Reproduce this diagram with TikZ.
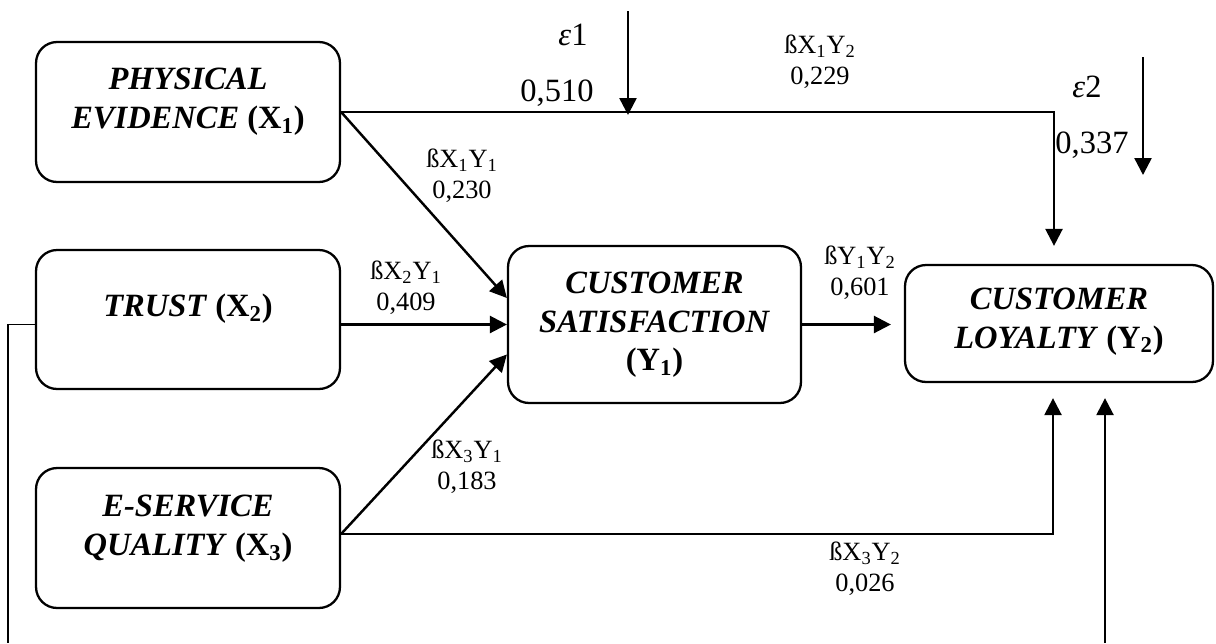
\documentclass[tikz,border=0pt]{standalone}
\usepackage{fontspec}
\setmainfont{Liberation Serif}
\usetikzlibrary{arrows.meta}

\tikzset{
	box/.style={draw, rounded corners=0.42cm, line width=1.3pt, inner sep=0pt},
	boxtext/.style={font=\fontsize{18.5}{22}\selectfont\bfseries, align=center},
	coef/.style={font=\fontsize{15}{17.5}\selectfont, align=center},
	err/.style={font=\fontsize{18.5}{20}\selectfont},
	arr/.style={line width=1.4pt, -{Triangle[length=0.34cm,width=0.34cm]}},
}

\begin{document}
\begin{tikzpicture}[x=0.02cm, y=-0.02cm]
	\useasboundingbox (0,0) rectangle (1216,643);

	%independent variables (X)
	\node[box, minimum width=6.08cm, minimum height=2.8cm] (pe) at (188,112) {};
	\node[boxtext] (pe text) at (188,102) {\textit{PHYSICAL}\\\textit{EVIDENCE} (X\textsubscript{1})};
	\node[box, minimum width=6.08cm, minimum height=2.78cm] (tr) at (188,319.5) {};
	\node[boxtext] (tr text) at (188,309) {\textit{TRUST} (X\textsubscript{2})};
	\node[box, minimum width=6.08cm, minimum height=2.8cm] (esq) at (188,538) {};
	\node[boxtext] (esq text) at (188,529) {\textit{E-SERVICE}\\\textit{QUALITY} (X\textsubscript{3})};

	%intervening and dependent variables (Y)
	\node[box, minimum width=5.86cm, minimum height=3.14cm] (y1) at (654.5,324.5) {};
	\node[boxtext] (y1 text) at (654.5,325) {\textit{CUSTOMER}\\\textit{SATISFACTION}\\(Y\textsubscript{1})};
	\node[box, minimum width=6.16cm, minimum height=2.34cm] (y2) at (1059,323.5) {};
	\node[boxtext] (y2 text) at (1059,321.5) {\textit{CUSTOMER}\\\textit{LOYALTY} (Y\textsubscript{2})};

	%paths
	\draw[arr] (pe.east) -- ([yshift=0.53cm]y1.west);
	\draw[arr] (tr.east |- y1.west) -- (y1.west);
	\draw[arr] ([yshift=0.08cm]esq.east) -- ([yshift=-0.6cm]y1.west);
	\draw[arr, shorten >=0.26cm] (y1.east) -- (y1.east -| y2.west);
	\draw[arr, shorten >=0.36cm] (pe.east) -| ([xshift=-0.1cm]y2.north);
	\draw[arr, shorten >=0.3cm] ([yshift=0.08cm]esq.east) -| ([xshift=-0.12cm]y2.south);

	%line from trust running out at the bottom
	\coordinate (fb corner) at (8,643);
	\draw[line width=0.8pt] (tr.west |- y1.west) -| (fb corner);
	\coordinate (fb end) at (1105,643);
	\draw[arr, shorten >=0.3cm] (fb end) -- (fb end |- y2.south);

	%errors (e)
	\coordinate (e1 start) at (628,11);
	\coordinate (e1 end) at (628,115);
	\draw[arr] (e1 start) -- (e1 end);
	\node[err] (e1) at (573,35) {\textit{ε}1};
	\node[err] (r1) at (557,93) {0,510};
	\coordinate (e2 start) at (1143,57);
	\coordinate (e2 end) at (1143,175);
	\draw[arr] (e2 start) -- (e2 end);
	\node[err] (e2) at (1087,87) {\textit{ε}2};
	\node[err] (r2) at (1092,145) {0,337};

	%path coefficients (b)
	\node[coef] (b11) at (462,176) {ßX\textsubscript{1}Y\textsubscript{1}\\0,230};
	\node[coef] (b21) at (406,288) {ßX\textsubscript{2}Y\textsubscript{1}\\0,409};
	\node[coef] (b31) at (467,467) {ßX\textsubscript{3}Y\textsubscript{1}\\0,183};
	\node[coef] (b12) at (820,62) {ßX\textsubscript{1}Y\textsubscript{2}\\0,229};
	\node[coef] (bY) at (860,273) {ßY\textsubscript{1}Y\textsubscript{2}\\0,601};
	\node[coef] (b32) at (865,569) {ßX\textsubscript{3}Y\textsubscript{2}\\0,026};
\end{tikzpicture}
\end{document}
